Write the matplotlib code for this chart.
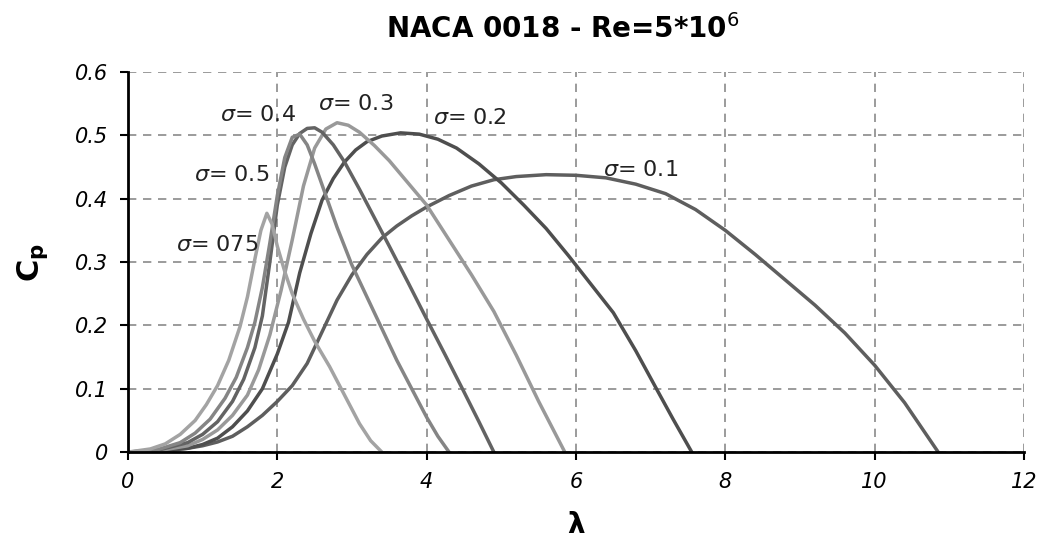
import matplotlib
matplotlib.use('Agg')
import matplotlib.pyplot as plt

# Cp vs tip speed ratio, one curve for each solidity
lam_01 = [0, 0.4, 0.8, 1.0, 1.2, 1.4, 1.6, 1.8, 2.0, 2.2, 2.4, 2.6, 2.8, 3.0, 3.2, 3.4, 3.6, 3.8, 4.0, 4.3, 4.6, 4.9,
          5.2, 5.6, 6.0, 6.4, 6.8, 7.2, 7.6, 8.0, 8.4, 8.8, 9.2, 9.6, 10.0, 10.4, 10.85]
cp_01 = [0, 0.002, 0.006, 0.01, 0.016, 0.025, 0.04, 0.058, 0.08, 0.105, 0.14, 0.19, 0.24, 0.28, 0.312, 0.338, 0.357, 0.373,
         0.387, 0.405, 0.42, 0.43, 0.435, 0.438, 0.437, 0.433, 0.423, 0.408, 0.383, 0.35, 0.312, 0.272, 0.232, 0.188, 0.137, 0.078, 0.0]

lam_02 = [0, 0.4, 0.8, 1.0, 1.2, 1.4, 1.6, 1.8, 2.0, 2.15, 2.3, 2.45, 2.6, 2.75, 2.9, 3.05, 3.2, 3.4, 3.65, 3.9, 4.15,
          4.4, 4.7, 5.0, 5.3, 5.6, 5.9, 6.2, 6.5, 6.8, 7.1, 7.3, 7.55]
cp_02 = [0, 0.001, 0.006, 0.012, 0.022, 0.04, 0.065, 0.1, 0.155, 0.205, 0.283, 0.345, 0.398, 0.432, 0.458, 0.477, 0.49, 0.499,
         0.504, 0.502, 0.494, 0.48, 0.455, 0.425, 0.39, 0.353, 0.31, 0.265, 0.22, 0.16, 0.095, 0.052, 0.0]

lam_03 = [0, 0.4, 0.8, 1.0, 1.2, 1.4, 1.6, 1.75, 1.9, 2.05, 2.2, 2.35, 2.5, 2.65, 2.8, 2.95, 3.1, 3.3, 3.5, 3.75, 4.0,
          4.3, 4.6, 4.9, 5.2, 5.5, 5.85]
cp_03 = [0, 0.002, 0.01, 0.02, 0.035, 0.058, 0.09, 0.13, 0.185, 0.255, 0.335, 0.42, 0.48, 0.51, 0.52, 0.516, 0.505, 0.484,
         0.46, 0.425, 0.39, 0.335, 0.28, 0.222, 0.153, 0.08, 0.0]

lam_04 = [0, 0.4, 0.8, 1.0, 1.2, 1.4, 1.55, 1.7, 1.8, 1.9, 2.0, 2.1, 2.2, 2.3, 2.4, 2.5, 2.6, 2.75, 2.9, 3.1, 3.3, 3.5,
          3.75, 4.0, 4.25, 4.5, 4.7, 4.9]
cp_04 = [0, 0.003, 0.015, 0.028, 0.048, 0.08, 0.115, 0.165, 0.215, 0.3, 0.39, 0.45, 0.485, 0.503, 0.511, 0.512, 0.505,
         0.485, 0.458, 0.415, 0.37, 0.325, 0.268, 0.21, 0.153, 0.095, 0.048, 0.0]

lam_05 = [0, 0.4, 0.7, 0.9, 1.1, 1.3, 1.45, 1.6, 1.7, 1.8, 1.9, 2.0, 2.1, 2.2, 2.3, 2.4, 2.5, 2.65, 2.8, 3.0, 3.2, 3.4,
          3.6, 3.8, 4.0, 4.15, 4.3]
cp_05 = [0, 0.004, 0.015, 0.03, 0.052, 0.085, 0.118, 0.165, 0.205, 0.26, 0.33, 0.405, 0.465, 0.497, 0.502, 0.485, 0.455,
         0.405, 0.355, 0.295, 0.245, 0.195, 0.145, 0.1, 0.055, 0.025, 0.0]

lam_075 = [0, 0.3, 0.5, 0.7, 0.9, 1.05, 1.2, 1.35, 1.5, 1.6, 1.7, 1.78, 1.86, 1.93, 2.0, 2.1, 2.2, 2.35, 2.5, 2.7, 2.9,
           3.1, 3.25, 3.4]
cp_075 = [0, 0.005, 0.013, 0.028, 0.05, 0.075, 0.105, 0.145, 0.198, 0.245, 0.305, 0.35, 0.377, 0.36, 0.325, 0.285, 0.25,
          0.21, 0.175, 0.135, 0.09, 0.045, 0.018, 0.0]

labels = ['0.1', '0.2', '0.3', '0.4', '0.5', '075']

fig = plt.figure(figsize=(10.42, 5.5), dpi=100)
ax = fig.add_axes([0.1228, 0.178, 0.86, 0.691])

ax.plot(lam_01, cp_01, color='#5e5e5e', lw=2.5)
ax.plot(lam_02, cp_02, color='#4e4e4e', lw=2.5)
ax.plot(lam_03, cp_03, color='#999999', lw=2.5)
ax.plot(lam_04, cp_04, color='#636363', lw=2.5)
ax.plot(lam_05, cp_05, color='#858585', lw=2.5)
ax.plot(lam_075, cp_075, color='#a3a3a3', lw=2.5)

# curve labels
lab_x = [6.86, 4.58, 3.05, 1.74, 1.39, 1.19]
lab_y = [0.445, 0.527, 0.55, 0.532, 0.437, 0.327]
for s, x, y in zip(labels, lab_x, lab_y):
    ax.text(x, y, r'$\sigma$= ' + s, fontsize=16, ha='center', va='center', color='#222222')

ax.set_xlim(0, 12)
ax.set_ylim(0, 0.6)
ax.set_xticks([0, 2, 4, 6, 8, 10, 12])
ax.set_xticklabels(['0', '2', '4', '6', '8', '10', '12'])
ax.set_yticks([0, 0.1, 0.2, 0.3, 0.4, 0.5, 0.6])
ax.set_yticklabels(['0', '0.1', '0.2', '0.3', '0.4', '0.5', '0.6'])
for t in ax.get_xticklabels() + ax.get_yticklabels():
    t.set_fontstyle('italic')
    t.set_fontsize(15)
ax.tick_params(direction='out', length=6, width=1.5, pad=8)

ax.grid(True, color='#8a8a8a', linestyle=(0, (5, 4)), linewidth=1.2)
ax.spines['top'].set_visible(False)
ax.spines['right'].set_visible(False)
ax.spines['left'].set_linewidth(2)
ax.spines['bottom'].set_linewidth(2)

ax.set_xlabel(r'$\mathbf{\lambda}$', fontsize=20, labelpad=14)
ax.set_ylabel(r'$\mathbf{C_p}$', fontsize=22, labelpad=18)
fig.suptitle(r'NACA 0018 - Re=5*10$^{6}$', x=0.54, y=0.975, fontsize=20, fontweight='bold')

plt.savefig('out.png', dpi=100)
